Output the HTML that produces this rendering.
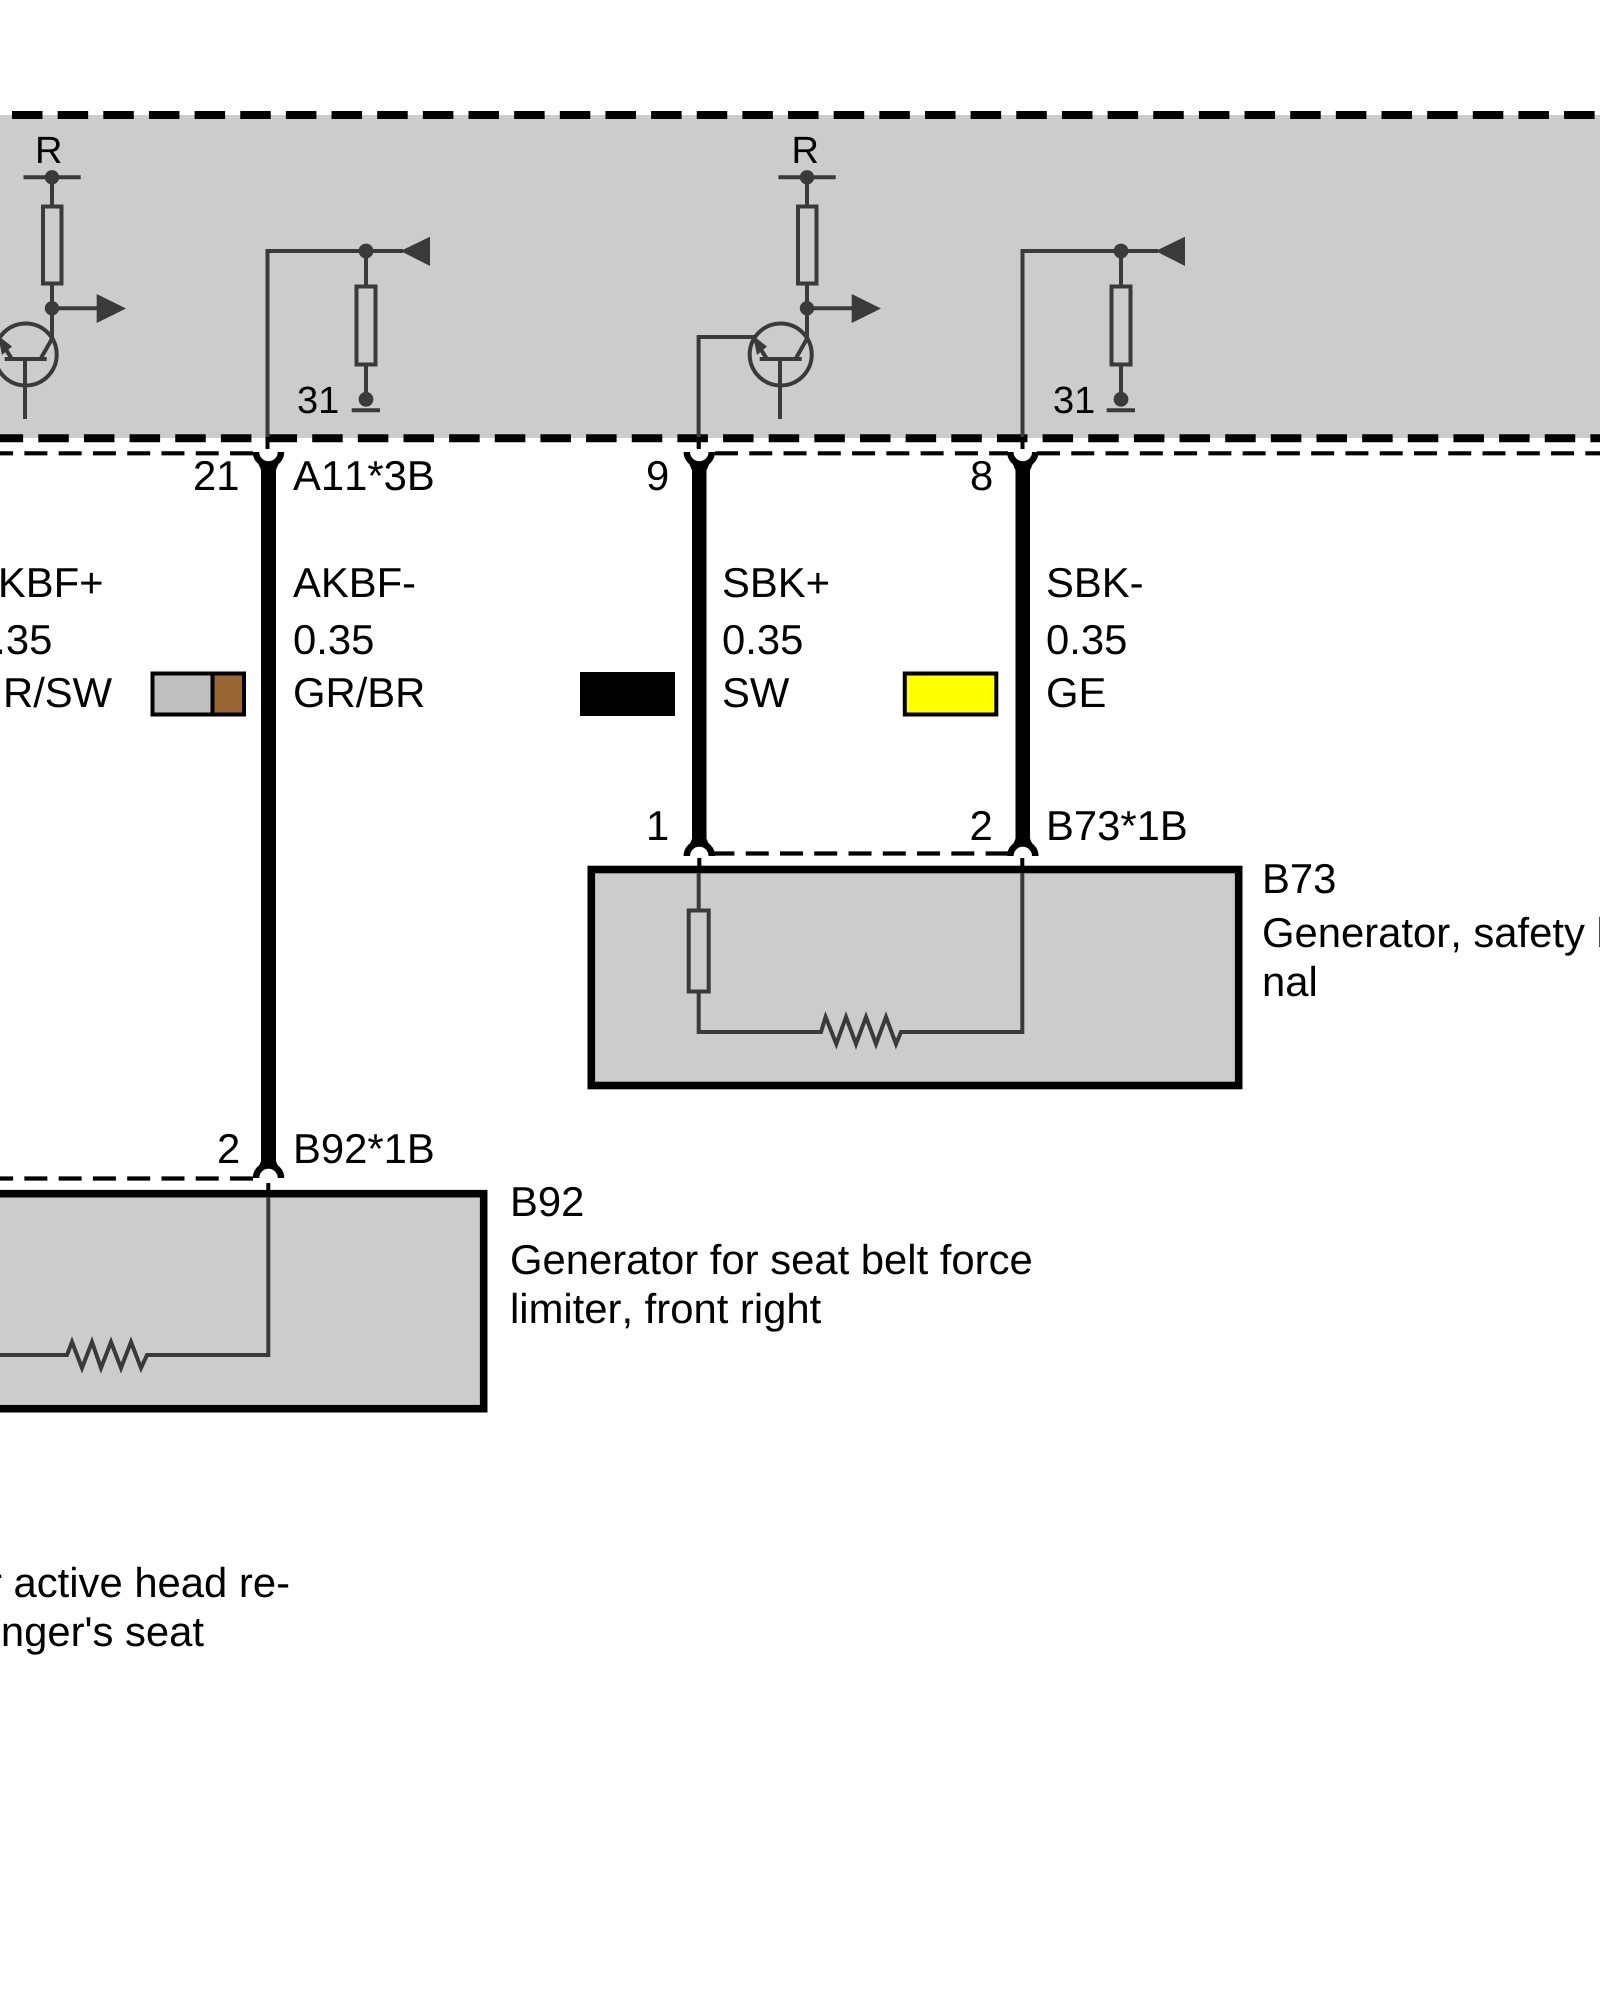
<!DOCTYPE html>
<html><head><meta charset="utf-8"><style>
html,body{margin:0;padding:0;background:#fff;width:1600px;height:2000px;overflow:hidden}
svg{display:block}
text{font-family:"Liberation Sans",sans-serif;font-size:41.8px;fill:#000;font-kerning:none;text-rendering:geometricPrecision}
.t{fill:none;stroke:#3a3a3a;stroke-width:4}
.d{fill:#3a3a3a}
.a{fill:none;stroke:#000;stroke-width:6.5}
.dl{fill:none;stroke:#000;stroke-width:4.2;stroke-dasharray:23 11.27}
.s{font-size:38px}
</style></head><body>
<svg width="1600" height="2000" viewBox="0 0 1600 2000" xmlns="http://www.w3.org/2000/svg">
<rect width="1600" height="2000" fill="#fff"/>
<rect x="0" y="115" width="1600" height="323" fill="#ccc"/>
<path d="M-33.65 115H1600" stroke="#000" stroke-width="8" stroke-dasharray="30.5 15.15" fill="none"/>
<path d="M-7.35 438.3H1600" stroke="#000" stroke-width="8" stroke-dasharray="30.5 15.15" fill="none"/>

<!-- upper dashed connector lines -->
<path class="dl" d="M253 453.3H0"/>
<path class="dl" d="M715 453.3H1008"/>
<path class="dl" d="M1037 453.3H1600"/>

<defs>
<g id="tr">
<path class="t" d="M23.5 177.3H80.7M52 177V205M52 285V339"/>
<rect class="t" x="43" y="206.5" width="18.5" height="77" style="fill:#ccc"/>
<circle class="d" cx="52" cy="177.3" r="7.2"/>
<circle class="d" cx="52" cy="308.3" r="7.2"/>
<path class="t" d="M52 308.3H97"/>
<path class="d" d="M96.7 294L126 308.5L96.7 323Z"/>
<circle class="t" cx="25.7" cy="354.5" r="31"/>
<path class="t" d="M4.7 359H46.7M25 359V419M53 337L40.5 359M-1 339L12 359"/>
<path class="d" d="M-2 335.5L12 346.5L2 355Z"/>
</g>
<g id="sn">
<path class="t" d="M267.5 448V251H403M366 251V399"/>
<rect class="t" x="356.5" y="286.5" width="19" height="78" style="fill:#ccc"/>
<circle class="d" cx="366" cy="251" r="7.4"/>
<circle class="d" cx="366" cy="399.3" r="7.4"/>
<path class="d" d="M400.5 251L430 236.7V266Z"/>
<path class="t" d="M351.7 410.3H380"/>
</g>
<g id="up">
<path d="M-10 464H10L7.4 470H-7.4Z" fill="#000"/>
<path class="a" d="M-12.5 452A12.5 12.5 0 0 0 12.5 452"/>
</g>
<g id="dn">
<path d="M-9.5 844H9.5L7.4 839H-7.4Z" fill="#000"/>
<path class="a" d="M-12.5 856A12.5 12.5 0 0 1 12.5 856"/>
</g>
</defs>
<use href="#tr"/>
<use href="#tr" x="755"/>
<use href="#sn"/>
<use href="#sn" x="755"/>
<path class="t" d="M698.6 448V337H754"/>
<path d="M267.5 437V449M698.8 437V449M1022.5 437V449" stroke="#000" stroke-width="4" fill="none"/>

<!-- wires -->
<rect x="261" y="468" width="15" height="696" fill="#000"/>
<rect x="692" y="468" width="14.5" height="372" fill="#000"/>
<rect x="1015.5" y="468" width="14.5" height="372" fill="#000"/>
<use href="#up" x="268.5"/>
<use href="#up" x="699.3"/>
<use href="#up" x="1022.8"/>

<!-- B73 -->
<rect x="591.3" y="869.5" width="647.4" height="216" fill="#ccc" stroke="#000" stroke-width="7.6"/>
<path class="dl" d="M1008.6 853.5H714"/>
<use href="#dn" x="699.3"/>
<use href="#dn" x="1022.8"/>
<path class="t" d="M698.7 873V909M698.7 993V1032H821L825.6 1017L836.3 1044L846 1017L856 1044L866 1017L876 1044L886 1017L896 1044L901 1032H1022.3V873"/>
<rect class="t" x="688.7" y="910.5" width="20" height="81"/>
<path d="M699.3 858V873M1022.3 858V873" stroke="#000" stroke-width="4" fill="none"/>

<!-- B92 -->
<rect x="-20" y="1193.7" width="503.7" height="215" fill="#ccc" stroke="#000" stroke-width="7.6"/>
<path class="dl" d="M253 1178.5H0"/>
<use href="#dn" x="268.5" y="322"/>
<path class="t" d="M0 1355H67L72 1342L82 1368L92 1342L101 1368L111 1342L121 1368L131 1342L141 1368L147 1355H268.3V1197"/>
<path d="M268.3 1183V1197" stroke="#000" stroke-width="4" fill="none"/>

<!-- swatches -->
<rect x="152.5" y="673.5" width="91.5" height="41" fill="#bfbfbf" stroke="#000" stroke-width="4"/>
<rect x="212.5" y="673.5" width="31.5" height="41" fill="#996633" stroke="#000" stroke-width="4"/>
<rect x="580" y="672" width="95" height="44" fill="#000"/>
<rect x="904.8" y="673.5" width="91.5" height="41" fill="#ffff00" stroke="#000" stroke-width="4"/>

<!-- labels -->
<text class="s" x="35" y="163">R</text>
<text class="s" x="791.5" y="163">R</text>
<text class="s" x="297" y="413">31</text>
<text class="s" x="1053" y="413">31</text>
<text x="193" y="490">21</text>
<text x="293" y="490">A11*3B</text>
<text x="646" y="490">9</text>
<text x="970" y="490">8</text>
<text x="-30" y="597">AKBF+</text>
<text x="-29" y="654">0.35</text>
<text x="-29.5" y="707">GR/SW</text>
<text x="293" y="597">AKBF-</text>
<text x="293" y="654">0.35</text>
<text x="293" y="707">GR/BR</text>
<text x="722" y="597">SBK+</text>
<text x="722" y="654">0.35</text>
<text x="722" y="707">SW</text>
<text x="1046" y="597">SBK-</text>
<text x="1046" y="654">0.35</text>
<text x="1046" y="707">GE</text>
<text x="646" y="840">1</text>
<text x="969.5" y="840">2</text>
<text x="1046" y="840">B73*1B</text>
<text x="1262" y="893">B73</text>
<text x="1262" y="947">Generator, safety belt tensioner, termi-</text>
<text x="1262" y="996">nal</text>
<text x="217" y="1163">2</text>
<text x="293" y="1163">B92*1B</text>
<text x="510" y="1216">B92</text>
<text x="510" y="1274">Generator for seat belt force</text>
<text x="510" y="1323">limiter, front right</text>
<text x="290" y="1597" text-anchor="end">Generator for active head re-</text>
<text x="204" y="1646" text-anchor="end">straint, passenger's seat</text>
</svg>
</body></html>
